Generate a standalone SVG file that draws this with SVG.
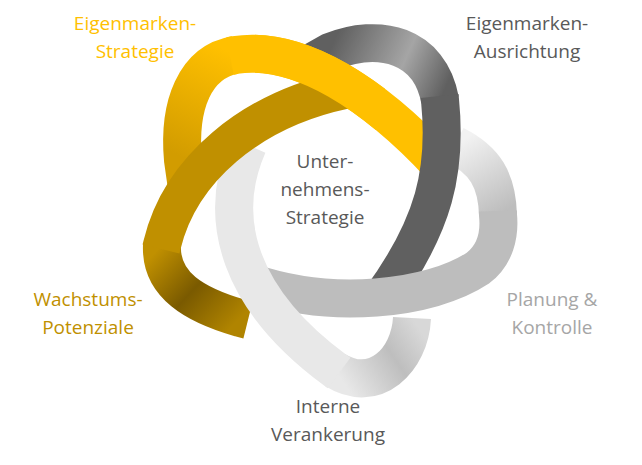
<svg xmlns="http://www.w3.org/2000/svg" width="642" height="465" viewBox="0 0 642 465">
<style>
.f{fill:none;stroke-width:38}
.b{fill:none;stroke-width:38}
text{font-family:"Open Sans","Liberation Sans",sans-serif;font-size:19px;text-anchor:middle}
</style>
<defs>
<linearGradient id="gy" gradientUnits="userSpaceOnUse" x1="183" y1="158" x2="235" y2="55"><stop offset="0" stop-color="#D29C00"/><stop offset="1" stop-color="#FFC000"/></linearGradient>
<linearGradient id="gd" gradientUnits="userSpaceOnUse" x1="330" y1="50" x2="440" y2="100"><stop offset="0" stop-color="#606060"/><stop offset="0.6" stop-color="#A5A5A5"/><stop offset="1" stop-color="#606060"/></linearGradient>
<linearGradient id="gl" gradientUnits="userSpaceOnUse" x1="498" y1="215" x2="455" y2="145"><stop offset="0" stop-color="#BDBDBD"/><stop offset="1" stop-color="#F2F2F2"/></linearGradient>
<linearGradient id="gw" gradientUnits="userSpaceOnUse" x1="335" y1="370" x2="412" y2="318"><stop offset="0" stop-color="#E8E8E8"/><stop offset="0.6" stop-color="#BEBEBE"/><stop offset="1" stop-color="#D8D8D8"/></linearGradient>
<linearGradient id="gg" gradientUnits="userSpaceOnUse" x1="240" y1="318" x2="162" y2="245"><stop offset="0" stop-color="#B08400"/><stop offset="0.5" stop-color="#7A5A00"/><stop offset="1" stop-color="#C09000"/></linearGradient>
<clipPath id="cy"><rect x="255" y="25" width="130" height="105"/></clipPath>
</defs>
<rect width="642" height="465" fill="#fff"/>
<g id="backs">
<path class="b" d="M187,188 L183,160 C178,105 195,62 235,55" stroke="url(#gy)"/>
<path class="b" d="M312,62 L330,52 C380,32 430,45 440,100" stroke="url(#gd)"/>
<path class="b" d="M498,215 C497,180 485,160 455,145" stroke="url(#gl)"/>
<path class="b" d="M335,370 C375,395 410,360 412,318" stroke="url(#gw)"/>
<path class="b" d="M248,320 L240,318 C195,305 160,285 162,245" stroke="url(#gg)"/>
</g>
<g id="yellow"><path class="f" d="M230,56 L235,55 C300,45 375,95 440,165" stroke="#FFC000"/></g>
<g id="darkgray"><path class="f" d="M439.6,96 L440,100 C447,170 435,225 380,300" stroke="#606060"/></g>
<g id="lightgray"><path class="f" d="M250,282 C330,310 430,300 478,268 C495,255 500,235 498,215 L497.9,211" stroke="#BDBDBD"/></g>
<g id="light"><path class="f" d="M248,145 C215,220 240,300 335,370 L339,373" stroke="#E8E8E8"/></g>
<g id="gold"><path class="f" d="M161,249 L162,245 C180,170 250,110 345,90" stroke="#C09000"/></g>
<g id="yellow-over"><path class="f" d="M235,55 C300,45 375,95 440,165" stroke="#FFC000" clip-path="url(#cy)"/></g>
<g id="labels">
<text x="135" y="30" fill="#FFC000">Eigenmarken-</text>
<text x="135" y="58" fill="#FFC000">Strategie</text>
<text x="527" y="30" fill="#595959">Eigenmarken-</text>
<text x="527" y="58" fill="#595959">Ausrichtung</text>
<text x="325" y="168" fill="#595959">Unter-</text>
<text x="325" y="196" fill="#595959">nehmens-</text>
<text x="325" y="224" fill="#595959">Strategie</text>
<text x="88" y="306" fill="#BF9000">Wachstums-</text>
<text x="88" y="334" fill="#BF9000">Potenziale</text>
<text x="552" y="306" fill="#A6A6A6">Planung &amp;</text>
<text x="552" y="334" fill="#A6A6A6">Kontrolle</text>
<text x="328" y="413" fill="#595959">Interne</text>
<text x="328" y="441" fill="#595959">Verankerung</text>
</g>
</svg>
